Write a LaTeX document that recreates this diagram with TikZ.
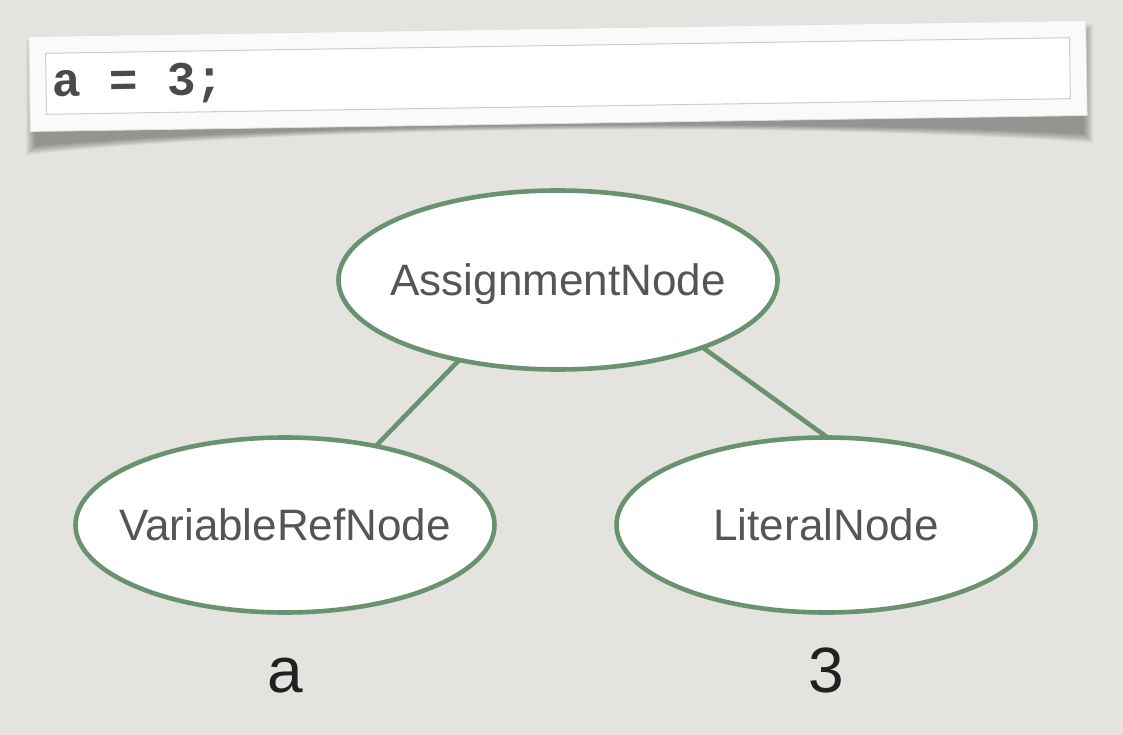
\documentclass[tikz,border=0pt]{standalone}
\usepackage{fontspec}
\setmainfont{Liberation Sans}
\newfontfamily\codefont{Liberation Mono}
\usepackage{tikz}
\usetikzlibrary{shapes.geometric}

\definecolor{paper}{HTML}{E4E3DF}
\definecolor{nodegreen}{HTML}{6B9270}
\definecolor{nodegray}{HTML}{555555}
\definecolor{codegray}{HTML}{4A4A4A}
\definecolor{framewhite}{HTML}{FAFAFA}

\tikzset{
  treenode/.style={ellipse, draw=nodegreen, line width=4.6pt, fill=white},
  nodetext/.style={text=nodegray, font=\fontsize{44}{44}\selectfont, text depth=0pt},
  valuetext/.style={text=black!87, font=\fontsize{64}{64}\selectfont, anchor=base},
  edge/.style={draw=nodegreen, line width=4.6pt}
}

\begin{document}
\begin{tikzpicture}[y=1pt, x=1pt, yscale=-1, inner sep=0pt, outer sep=0pt]
  \path[fill=paper,use as bounding box] (0,0) rectangle (1123,735);

  % shadow under the code strip
  \foreach \d in {0,...,9}
    \path[fill=black,opacity=0.038] (26+\d,40+\d) -- (1093-\d,24+\d) --
      (1093-\d,143-\d) .. controls (800,122-0.3*\d) and (300,125-0.3*\d) ..
      (26+\d,155-\d) -- cycle;

  % code strip
  \begin{scope}[rotate around={-0.87:(558,76)}]
    \path[fill=framewhite,draw=black!12,line width=0.8pt] (29.5,28.5)
      rectangle (1086.5,123.5);
    \path[fill=white,draw=black!20,line width=1pt] (46,45.5) rectangle
      (1070,106.5);
  \end{scope}
  \path (52,97) node[anchor=base west,rotate=0.87,text=codegray,
    font=\codefont\bfseries\fontsize{48}{48}\selectfont] (code) {a = 3;};

  % tree
  \node[treenode,minimum width=439pt,minimum height=179pt] (assign) at
    (558,280) {};
  \node[treenode,minimum width=419pt,minimum height=175pt] (varref) at
    (285,525) {};
  \node[treenode,minimum width=419pt,minimum height=175pt] (literal) at
    (826,525) {};
  \node[nodetext] (assigntext) at (assign) {AssignmentNode};
  \node[nodetext] (varreftext) at (varref) {VariableRefNode};
  \node[nodetext] (literaltext) at (literal) {LiteralNode};

  \path[edge] (assign.219) -- (varref.41);
  \path[edge] (assign.335) -- (literal.89);

  \path (285,692) node[valuetext] (vala) {a};
  \path (826,692) node[valuetext] (val3) {3};

\end{tikzpicture}
\end{document}
